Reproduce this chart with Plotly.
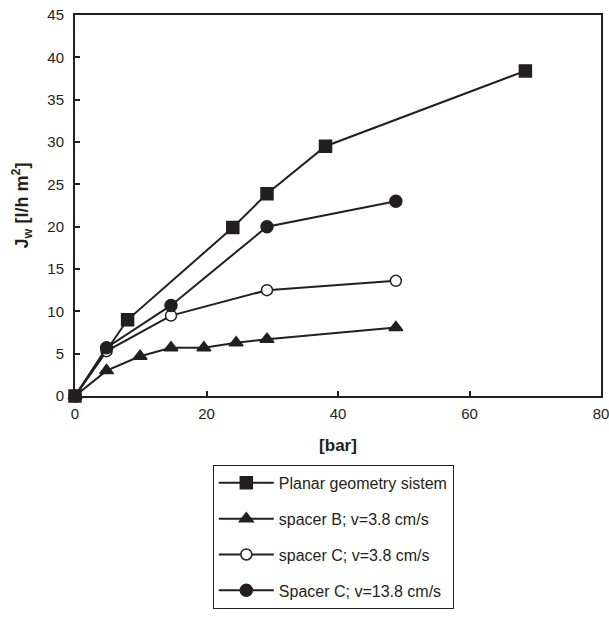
import plotly.graph_objects as go

# Data
x_planar = [0, 8, 24, 29.2, 38.1, 68.5]
y_planar = [0, 9, 19.9, 23.9, 29.5, 38.4]

x_spacerB = [0, 4.8, 9.9, 14.6, 19.6, 24.5, 29.2, 48.8]
y_spacerB = [0, 3.0, 4.7, 5.7, 5.7, 6.3, 6.7, 8.1]

x_spacerC_low = [0, 4.8, 14.6, 29.2, 48.8]
y_spacerC_low = [0, 5.3, 9.5, 12.5, 13.6]

x_spacerC_high = [0, 4.8, 14.6, 29.2, 48.8]
y_spacerC_high = [0, 5.7, 10.7, 20.0, 23.0]

names = ["Planar geometry sistem", "spacer B; v=3.8 cm/s",
         "spacer C; v=3.8 cm/s", "Spacer C; v=13.8 cm/s"]

x_ticks = [0, 20, 40, 60, 80]
y_ticks = [0, 5, 10, 15, 20, 25, 30, 35, 40, 45]

INK = "#231f20"

fig = go.Figure()

def add(x, y, name, symbol, size, fill):
    fig.add_trace(go.Scatter(
        x=x, y=y, name=name, mode="lines+markers",
        legendgroup=name,
        line=dict(color=INK, width=2),
        marker=dict(symbol=symbol, size=size, color=fill,
                    line=dict(color=INK, width=1.5)),
        cliponaxis=False,
    ))

add(x_planar, y_planar, names[0], "square", 12, INK)
add(x_spacerB, y_spacerB, names[1], "triangle-up", 12, INK)
add(x_spacerC_low, y_spacerC_low, names[2], "circle", 11, "white")
add(x_spacerC_high, y_spacerC_high, names[3], "circle", 12, INK)

fig.update_layout(
    width=609, height=617,
    margin=dict(l=75, r=8, t=15, b=221),
    paper_bgcolor="white", plot_bgcolor="white",
    font=dict(family="Liberation Sans, Arial, sans-serif", size=15, color=INK),
    showlegend=True,
    legend=dict(
        x=0.262, y=-0.181, xanchor="left", yanchor="top",
        bordercolor=INK, borderwidth=1,
        traceorder="grouped", tracegroupgap=12, itemwidth=55,
        font=dict(size=16, color=INK),
        bgcolor="white",
    ),
    xaxis=dict(
        range=[0, 80], tickvals=x_ticks, ticktext=[str(v) for v in x_ticks],
        ticks="inside", ticklen=5, tickwidth=1.5, tickcolor=INK,
        showline=True, linecolor=INK, linewidth=2, mirror=True,
        showgrid=False, zeroline=False, automargin=False,
        ticklabelstandoff=3, ticklabeloverflow="allow",
        title=dict(text="<b>[bar]</b>", font=dict(size=17), standoff=18),
        tickfont=dict(size=15),
    ),
    yaxis=dict(
        range=[0, 45], tickvals=y_ticks, ticktext=[str(v) for v in y_ticks],
        ticks="inside", ticklen=5, tickwidth=1.5, tickcolor=INK,
        showline=True, linecolor=INK, linewidth=2, mirror=True,
        showgrid=False, zeroline=False, automargin=False,
        ticklabelstandoff=6, ticklabeloverflow="allow",
        title=dict(text="<b>J<sub>w</sub> [l/h m<sup>2</sup>]</b>", font=dict(size=18), standoff=14),
        tickfont=dict(size=15),
    ),
)

fig.write_html("out.html",
               config={"displayModeBar": False},
               post_script="document.body.style.margin='0';document.body.style.overflow='hidden';")
